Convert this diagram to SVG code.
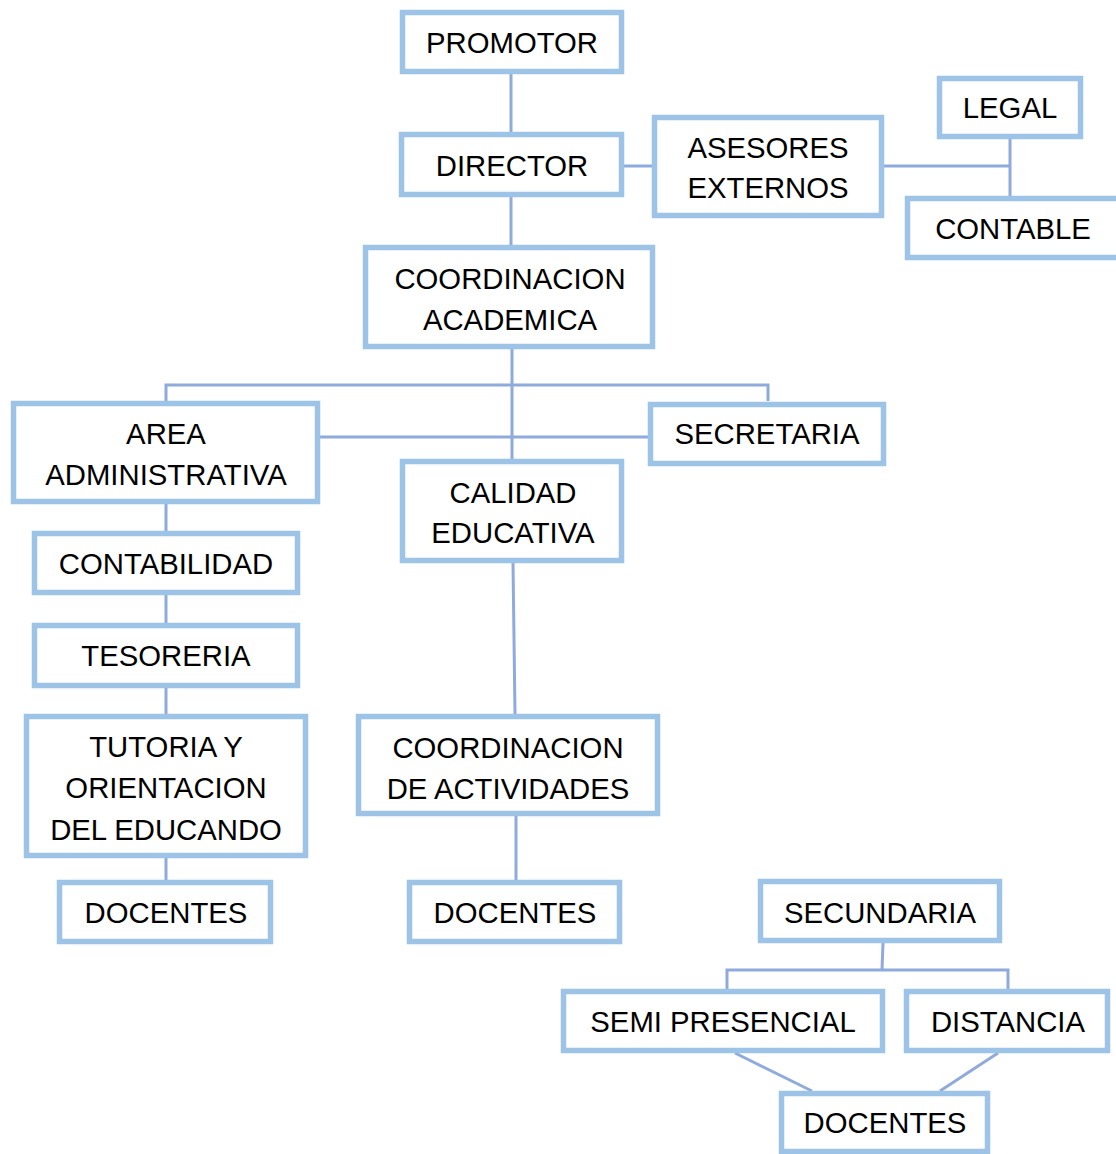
<svg xmlns="http://www.w3.org/2000/svg" width="1116" height="1154" viewBox="0 0 1116 1154">
<style>
.b{fill:#fff;stroke:#9DC3E6;stroke-width:5.5}
.t{font-family:"Liberation Sans",Arial,sans-serif;font-size:29.3px;fill:#000;text-anchor:middle}
.c{fill:none;stroke:#8FAADC;stroke-width:3}
</style>
<rect width="1116" height="1154" fill="#fff"/>
<g id="connectors">
<path class="c" d="M511 74V132M511 197V245M624 166H652M884 166H1010M1010 139V196"/>
<path class="c" d="M512 349V460M166 401V385H768V401M320 437H648"/>
<path class="c" d="M513 563L515 714M516 816V880"/>
<path class="c" d="M166 504V531M166 595V624M166 688V715M166 858V880"/>
<path class="c" d="M883 943L882 970M727 990V970H1008V990M735 1053L812 1091M998 1053L940 1091"/>
</g>
<g id="promotor"><rect class="b" x="402.5" y="12.5" width="219" height="59"/><text class="t" x="512" y="53">PROMOTOR</text></g>
<g id="director"><rect class="b" x="401.5" y="134.5" width="220" height="60"/><text class="t" x="512" y="176">DIRECTOR</text></g>
<g id="asesores"><rect class="b" x="654.5" y="117.5" width="227" height="98"/><text class="t" x="768" y="158">ASESORES</text><text class="t" x="768" y="198">EXTERNOS</text></g>
<g id="legal"><rect class="b" x="939.5" y="78.5" width="141" height="58"/><text class="t" x="1010" y="118">LEGAL</text></g>
<g id="contable"><rect class="b" x="907.5" y="198.5" width="212" height="59"/><text class="t" x="1013" y="239">CONTABLE</text></g>
<g id="coord-academica"><rect class="b" x="365.5" y="247.5" width="287" height="99"/><text class="t" x="510" y="289">COORDINACION</text><text class="t" x="510" y="330">ACADEMICA</text></g>
<g id="area-administrativa"><rect class="b" x="13.5" y="403.5" width="304" height="98"/><text class="t" x="166" y="444">AREA</text><text class="t" x="166" y="485">ADMINISTRATIVA</text></g>
<g id="secretaria"><rect class="b" x="650.5" y="404.5" width="233" height="59"/><text class="t" x="767" y="444">SECRETARIA</text></g>
<g id="calidad-educativa"><rect class="b" x="402.5" y="461.5" width="219" height="99"/><text class="t" x="513" y="503">CALIDAD</text><text class="t" x="513" y="543">EDUCATIVA</text></g>
<g id="contabilidad"><rect class="b" x="34.5" y="533.5" width="263" height="59"/><text class="t" x="166" y="574">CONTABILIDAD</text></g>
<g id="tesoreria"><rect class="b" x="34.5" y="625.5" width="263" height="60"/><text class="t" x="166" y="666">TESORERIA</text></g>
<g id="tutoria"><rect class="b" x="26.5" y="716.5" width="279" height="139"/><text class="t" x="166" y="757">TUTORIA Y</text><text class="t" x="166" y="798">ORIENTACION</text><text class="t" x="166" y="840">DEL EDUCANDO</text></g>
<g id="docentes-1"><rect class="b" x="59.5" y="882.5" width="211" height="59"/><text class="t" x="166" y="923">DOCENTES</text></g>
<g id="coord-actividades"><rect class="b" x="358.5" y="716.5" width="299" height="97"/><text class="t" x="508" y="758">COORDINACION</text><text class="t" x="508" y="799">DE ACTIVIDADES</text></g>
<g id="docentes-2"><rect class="b" x="409.5" y="882.5" width="210" height="59"/><text class="t" x="515" y="923">DOCENTES</text></g>
<g id="secundaria"><rect class="b" x="760.5" y="881.5" width="239" height="59"/><text class="t" x="880" y="923">SECUNDARIA</text></g>
<g id="semi-presencial"><rect class="b" x="563.5" y="991.5" width="319" height="59"/><text class="t" x="723" y="1032">SEMI PRESENCIAL</text></g>
<g id="distancia"><rect class="b" x="906.5" y="991.5" width="201" height="59"/><text class="t" x="1008" y="1032">DISTANCIA</text></g>
<g id="docentes-3"><rect class="b" x="781.5" y="1093.5" width="206" height="58"/><text class="t" x="885" y="1133">DOCENTES</text></g>
</svg>
